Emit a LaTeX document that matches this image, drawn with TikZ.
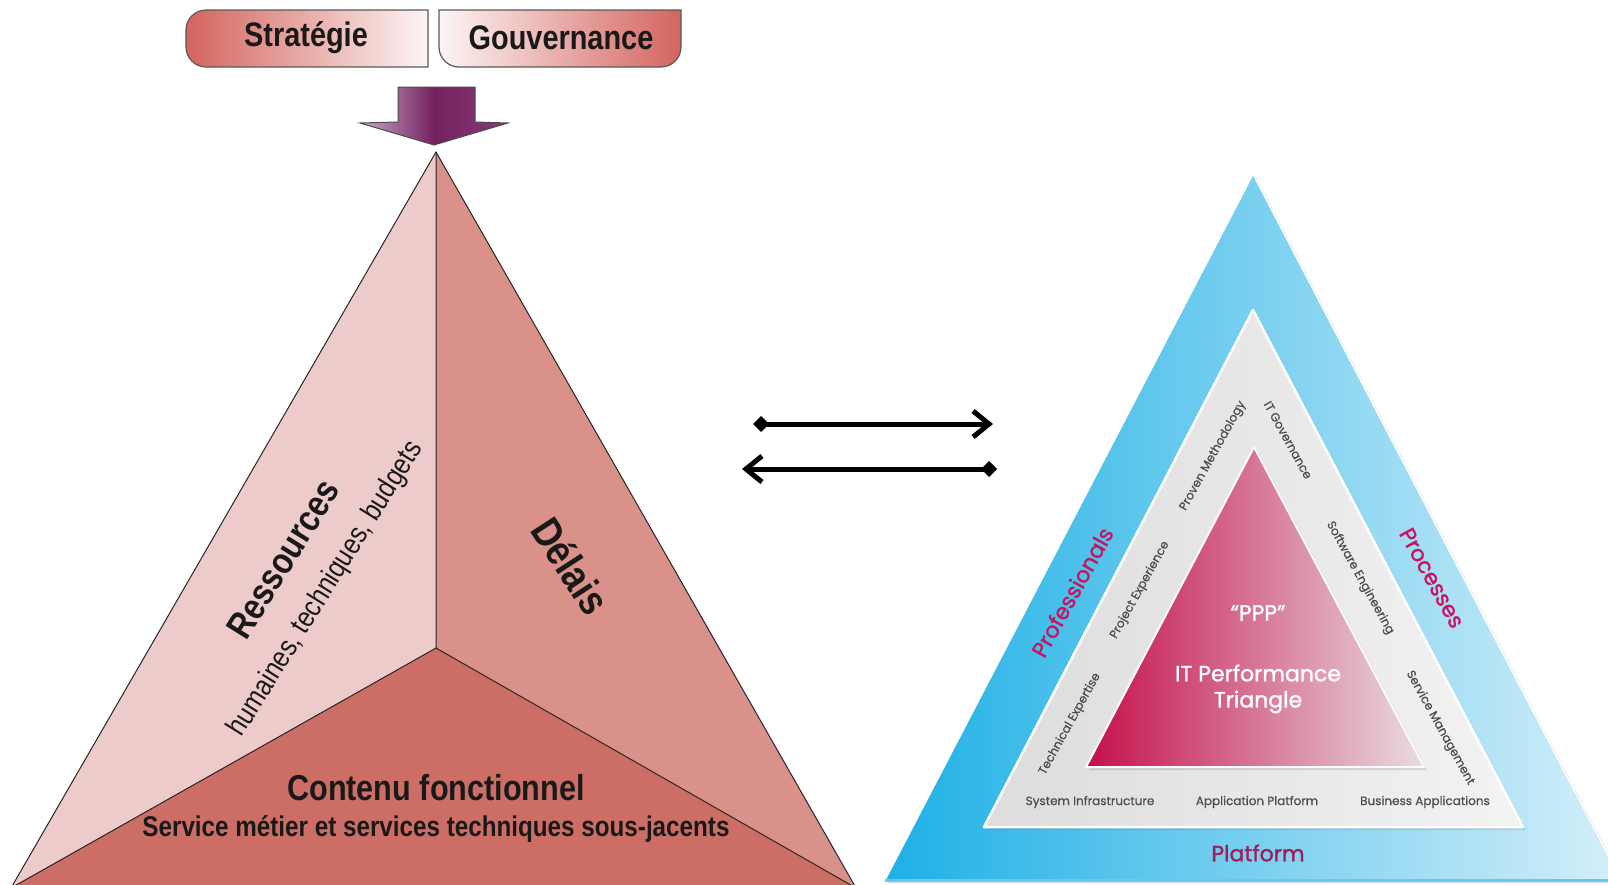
\documentclass[tikz,border=0pt]{standalone}
\usepackage{fontspec}
\usetikzlibrary{arrows.meta,shadows}
\newfontfamily\narrowfont[FakeStretch=0.85]{Liberation Sans}
\newfontfamily\roundfont[FakeBold=0.4]{Poppins}
\newfontfamily\roundbold[FakeBold=1.3]{Poppins}
\newcommand\fsz[1]{\fontsize{#1}{#1}\selectfont}
\definecolor{panelleft}{HTML}{EDCBCB}
\definecolor{panelright}{HTML}{D9918A}
\definecolor{panelbottom}{HTML}{CD6E66}
\definecolor{banred}{HTML}{D4645E}
\definecolor{arrowdark}{HTML}{74225E}
\definecolor{arrowlight}{HTML}{CBA6C8}
\definecolor{bluedark}{HTML}{1DB0E6}
\definecolor{bluelight}{HTML}{D5EFF9}
\definecolor{graydark}{HTML}{DCDCDC}
\definecolor{graylight}{HTML}{F3F3F3}
\definecolor{pinkdark}{HTML}{C4104A}
\definecolor{pinklight}{HTML}{E9DCE2}
\definecolor{magenta}{HTML}{C8145F}
\definecolor{plum}{HTML}{A11C5A}
\begin{document}
\begin{tikzpicture}[x=1pt, y=-1pt,
    edge/.style={draw=black!85, line width=1pt},
    banner/.style={draw=black!65, line width=1.2pt},
    biglabel/.style={font=\narrowfont\bfseries\fsz{#1}, text=black!90, inner sep=0pt},
    smalllabel/.style={font=\narrowfont\fsz{#1}, text=black!90, inner sep=0pt},
    bandlabel/.style={font=\roundbold\fsz{22}, text=magenta, inner sep=0pt},
    graylabel/.style={font=\roundfont\fsz{12}, text=black!70, inner sep=0pt},
    whitelabel/.style={font=\roundbold\fsz{22}, text=white, inner sep=0pt},
    linkarrow/.style={line width=5pt, arrows={Diamond[length=16pt,width=16pt]-Straight Barb[length=16pt,width=26pt]}},
    shade/.style={drop shadow={opacity=0.25, shadow xshift=3pt, shadow yshift=-3pt}}]
    \useasboundingbox (0,0) rectangle (1608,884);
    \clip (0,0) rectangle (1608,884);

    \coordinate (apex) at (436,152);
    \coordinate (mid) at (436,648);
    \coordinate (bl) at (11,888);
    \coordinate (br) at (856,888);
    \fill[panelleft] (apex) -- (mid) -- (bl) -- cycle;
    \fill[panelright] (apex) -- (br) -- (mid) -- cycle;
    \fill[panelbottom] (mid) -- (br) -- (bl) -- cycle;
    \draw[edge] (bl) -- (apex) -- (br);
    \draw[edge] (apex) -- (mid) -- (bl);
    \draw[edge] (mid) -- (br);

    \draw[banner, left color=banred, right color=banred!6] (428,10) [rounded corners=20pt] -- (186,10) -- (186,67) [sharp corners] -- (428,67) -- cycle;
    \draw[banner, left color=banred!6, right color=banred] (439,10) -- (681,10) [rounded corners=20pt] -- (681,67) -- (439,67) [sharp corners] -- cycle;
    \node[biglabel=34] (strat) at (306,38) {Stratégie};
    \node[biglabel=34] (gouv) at (561,38) {Gouvernance};
    \draw[draw=black!70, line width=1pt, left color=arrowlight, right color=arrowdark!80!arrowlight, middle color=arrowdark]
        (398,87) -- (475,87) -- (475,122) -- (508,123) -- (434,145) -- (360,123) -- (398,122) -- cycle;

    \node[biglabel=37, rotate=58] (ress) at (283,559) {Ressources};
    \node[smalllabel=29, rotate=58] (resssub) at (326,589) {humaines, techniques, budgets};
    \node[biglabel=42, rotate=-57] (delais) at (571,566) {Délais};
    \node[biglabel=36] (contenu) at (436,788) {Contenu fonctionnel};
    \node[biglabel=28.5] (contenusub) at (436,829) {Service métier et services techniques sous-jacents};

    \coordinate (l1) at (753,424);
    \coordinate (r1) at (993,424);
    \coordinate (r2) at (997,469);
    \coordinate (l2) at (742,469);
    \draw[linkarrow] (l1) -- (r1);
    \draw[linkarrow] (r2) -- (l2);

    \coordinate (oa) at (1253,174);
    \coordinate (ol) at (885,880);
    \coordinate (or) at (1621,880);
    \coordinate (ga) at (1253,310);
    \coordinate (gl) at (984,827);
    \coordinate (gr) at (1523,827);
    \coordinate (pa) at (1254,447);
    \coordinate (pl) at (1086,767);
    \coordinate (pr) at (1424,767);
    \fill[shade, left color=bluedark, right color=bluelight] (oa) -- (or) -- (ol) -- cycle;
    \draw[white, line width=1.5pt] (ol) -- (oa) -- (or);
    \draw[bluedark!60!bluelight, line width=3pt] (ol) -- (or);
    \fill[shade, left color=graydark, right color=graylight] (ga) -- (gr) -- (gl) -- cycle;
    \draw[white, line width=2.5pt, line join=round] (ga) -- (gr) -- (gl) -- cycle;
    \fill[shade, left color=pinkdark, right color=pinklight] (pa) -- (pr) -- (pl) -- cycle;
    \draw[white!85!pinklight, line width=2pt, line join=round] (pa) -- (pr) -- (pl) -- cycle;

    \node[bandlabel, rotate=61] (prof) at (1072,592) {Professionals};
    \node[bandlabel, rotate=-61] (proc) at (1432,578) {Processes};
    \node[bandlabel, text=plum] (plat) at (1258,853) {Platform};
    \node[graylabel, rotate=61] (proven) at (1213,456) {Proven Methodology};
    \node[graylabel, rotate=61] (projexp) at (1140,590) {Project Experience};
    \node[graylabel, rotate=61] (techexp) at (1070,724) {Technical Expertise};
    \node[graylabel, rotate=-61] (itgov) at (1288,440) {IT Governance};
    \node[graylabel, rotate=-61] (softeng) at (1360,578) {Software Engineering};
    \node[graylabel, rotate=-61] (servmgmt) at (1440,728) {Service Management};
    \node[graylabel] (sysinfra) at (1090,802) {System Infrastructure};
    \node[graylabel] (appplat) at (1257,802) {Application Platform};
    \node[graylabel] (busapp) at (1425,802) {Business Applications};
    \node[whitelabel] (ppp) at (1258,613) {“PPP”};
    \node[whitelabel] (itperf) at (1258,673) {IT Performance};
    \node[whitelabel] (tri) at (1258,702) {Triangle};
\end{tikzpicture}
\end{document}
